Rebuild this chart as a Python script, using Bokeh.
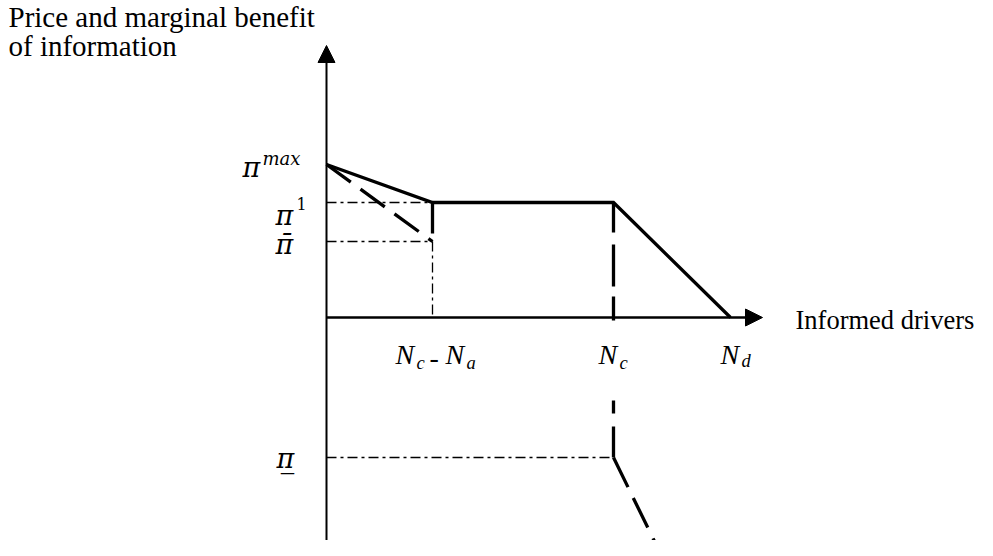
from bokeh.plotting import figure
from bokeh.models import Range1d, Arrow, NormalHead, ColumnDataSource
from bokeh.core.properties import value
from bokeh.embed import file_html
from bokeh.resources import INLINE

# ---- data (axis units: origin at the axes' crossing) ----
# informed drivers
n_c_minus_n_a = 1.06
n_c = 2.87
n_d = 4.04
# price / marginal benefit levels
pi_max = 1.53
pi_1 = 1.15
pi_bar = 0.76
pi_low = -1.40
jump_low = 0.84          # lower end of the solid jump at N_c - N_a
tail_x = 3.31            # end of the lower dashed branch
tail_y = -2.30
nc_break = [-0.03, -0.83]  # dashed line interrupted behind the N_c label

x_axis_end = 4.36
y_axis_end = 2.72
y_axis_start = -2.6

title_lines = ["Price and marginal benefit", "of information"]
x_title = "Informed drivers"

SERIF = value("Liberation Serif")
MATH = value("DejaVu Serif")

p = figure(width=977, height=540, output_backend="svg", toolbar_location=None,
           x_range=Range1d(-3.26, 6.51), y_range=Range1d(-2.23, 3.17),
           x_axis_type=None, y_axis_type=None, min_border=0)
p.grid.visible = False
p.outline_line_color = None
p.background_fill_color = "white"
p.border_fill_color = "white"

# ---- axes with arrows ----
p.add_layout(Arrow(end=NormalHead(size=17, fill_color="black", line_color="black", line_width=1),
                   x_start=0, y_start=0, x_end=x_axis_end, y_end=0,
                   line_width=2.3, line_color="black"))
p.add_layout(Arrow(end=NormalHead(size=17, fill_color="black", line_color="black", line_width=1),
                   x_start=0, y_start=y_axis_start, x_end=0, y_end=y_axis_end,
                   line_width=2, line_color="black"))

# ---- dash-dot reference lines ----
dd = "10 4 3 4"
p.multi_line(xs=[[0, n_c_minus_n_a], [0, n_c_minus_n_a], [n_c_minus_n_a, n_c_minus_n_a], [0, n_c]],
             ys=[[pi_1, pi_1], [pi_bar, pi_bar], [pi_bar, 0], [pi_low, pi_low]],
             line_color="black", line_width=1.3, line_dash=dd)

# ---- solid curve ----
p.line(x=[0, n_c_minus_n_a, n_c, n_d], y=[pi_max, pi_1, pi_1, 0],
       line_color="black", line_width=3.3, line_join="miter")
p.line(x=[n_c_minus_n_a, n_c_minus_n_a], y=[pi_1, jump_low],
       line_color="black", line_width=3.3)

# ---- dashed curve ----
p.line(x=[0, n_c_minus_n_a], y=[pi_max, pi_bar], line_color="black", line_width=3.3, line_dash="30 12")
p.line(x=[n_c, n_c], y=[pi_1, nc_break[0]], line_color="black", line_width=3.3, line_dash="30 12 42 10")
p.line(x=[n_c, n_c], y=[pi_low, nc_break[1]], line_color="black", line_width=3.3, line_dash="31 13")
p.line(x=[n_c, tail_x], y=[pi_low, tail_y], line_color="black", line_width=3.3, line_dash="33 12")

# ---- axis titles ----
p.text(x=[0, 0], y=[0, 0], text=title_lines, x_offset=[-318, -318], y_offset=[-301, -272],
       text_font=SERIF, text_font_size="29px", text_baseline="middle", text_align="left",
       text_color="black")
p.text(x=[0], y=[0], text=[x_title], x_offset=[469], y_offset=[2],
       text_font=SERIF, text_font_size="26.5px", text_baseline="middle", text_align="left",
       text_color="black")

# ---- N labels ----
n_src = ColumnDataSource(dict(x=[n_c_minus_n_a, n_c_minus_n_a, n_c, n_d], y=[0, 0, 0, 0],
                              t=["N", "N", "N", "N"], xo=[-37, 13, -15, -10], yo=[37, 37, 37, 37]))
p.text(x="x", y="y", text="t", x_offset="xo", y_offset="yo", source=n_src,
       text_font=SERIF, text_font_size="28px", text_font_style="italic",
       text_baseline="middle", text_align="left", text_color="black")
sub_src = ColumnDataSource(dict(x=[n_c_minus_n_a, n_c_minus_n_a, n_c, n_d], y=[0, 0, 0, 0],
                                t=["c", "a", "c", "d"], xo=[-16, 34, 6, 11], yo=[45, 45, 45, 43]))
p.text(x="x", y="y", text="t", x_offset="xo", y_offset="yo", source=sub_src,
       text_font=SERIF, text_font_size="18.5px", text_font_style="italic",
       text_baseline="middle", text_align="left", text_color="black")
p.text(x=[n_c_minus_n_a], y=[0], text=["-"], x_offset=[-3], y_offset=[40],
       text_font=SERIF, text_font_size="28px", text_baseline="middle", text_align="left",
       text_color="black")

# ---- price labels ----
pi_src = ColumnDataSource(dict(x=[0, 0, 0, 0], y=[pi_max, pi_1, pi_bar, pi_low],
                               t=["\u03c0", "\u03c0", "\u03c0\u0304", "\u03c0\u0332"],
                               xo=[-84, -51, -51, -50], yo=[3, 13, 3, 1]))
p.text(x="x", y="y", text="t", x_offset="xo", y_offset="yo", source=pi_src,
       text_font=MATH, text_font_size="27px", text_font_style="italic",
       text_baseline="middle", text_align="left", text_color="black")
p.text(x=[0], y=[pi_max], text=["max"], x_offset=[-64], y_offset=[-6],
       text_font=MATH, text_font_size="18px", text_font_style="italic",
       text_baseline="middle", text_align="left", text_color="black")
p.text(x=[0], y=[pi_1], text=["1"], x_offset=[-30], y_offset=[1],
       text_font=MATH, text_font_size="16px",
       text_baseline="middle", text_align="left", text_color="black")

open("out.html", "w").write(file_html(p, INLINE))
